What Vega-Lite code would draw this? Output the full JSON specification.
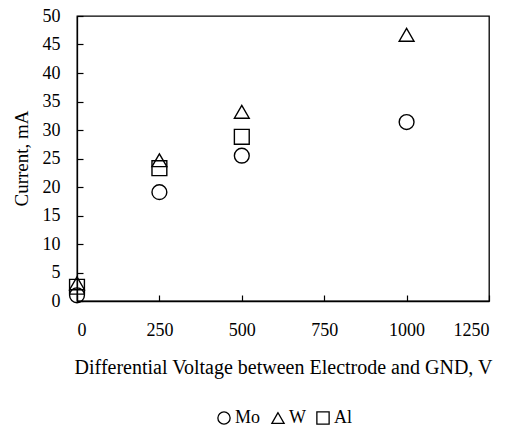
{
  "$schema": "https://vega.github.io/schema/vega-lite/v6.json",
  "width": 412,
  "height": 285,
  "autosize": {"type": "none"},
  "padding": {"left": 77, "top": 16, "right": 25, "bottom": 129},
  "background": "white",
  "config": {
    "font": "Liberation Serif",
    "view": {"stroke": "black", "strokeWidth": 1.3},
    "axis": {
      "grid": false,
      "domainColor": "black",
      "domainWidth": 1.3,
      "tickColor": "black",
      "tickWidth": 1.2,
      "labelColor": "black",
      "titleColor": "black",
      "labelFontSize": 18,
      "titleFontWeight": "normal"
    },
    "legend": {"labelFont": "Liberation Serif", "labelFontSize": 18, "labelColor": "black"}
  },
  "data": {
    "values": [
      {"voltage": 0, "current": 1.0, "metal": "Mo"},
      {"voltage": 250, "current": 19.1, "metal": "Mo"},
      {"voltage": 500, "current": 25.5, "metal": "Mo"},
      {"voltage": 1000, "current": 31.4, "metal": "Mo"},
      {"voltage": 0, "current": 3.1, "metal": "W"},
      {"voltage": 250, "current": 24.7, "metal": "W"},
      {"voltage": 500, "current": 33.2, "metal": "W"},
      {"voltage": 1000, "current": 46.7, "metal": "W"},
      {"voltage": 0, "current": 2.5, "metal": "Al"},
      {"voltage": 250, "current": 23.3, "metal": "Al"},
      {"voltage": 500, "current": 28.8, "metal": "Al"}
    ]
  },
  "mark": {"type": "point", "filled": false, "stroke": "black", "strokeWidth": 1.4, "size": 220, "opacity": 1},
  "encoding": {
    "x": {
      "field": "voltage", "type": "quantitative",
      "scale": {"domain": [0, 1250], "nice": false},
      "axis": {
        "title": "Differential Voltage between Electrode and GND, V",
        "values": [0, 250, 500, 750, 1000, 1250],
        "format": "d",
        "labelFont": "Times New Roman",
        "titleFont": "Liberation Serif",
        "tickSize": -6,
        "labelPadding": 35,
        "labelBaseline": "middle",
        "titleFontSize": 20,
        "titleY": 72,
        "titleBaseline": "alphabetic"
      }
    },
    "y": {
      "field": "current", "type": "quantitative",
      "scale": {"domain": [0, 50], "nice": false},
      "axis": {
        "title": "Current, mA",
        "values": [0, 5, 10, 15, 20, 25, 30, 35, 40, 45, 50],
        "format": "d",
        "labelFont": "Liberation Serif",
        "titleFont": "Liberation Serif",
        "tickSize": -6,
        "labelPadding": 23,
        "titleFontSize": 19,
        "titleX": -56,
        "titleY": 142,
        "titleBaseline": "middle",
        "titleAngle": -90
      }
    },
    "shape": {
      "field": "metal", "type": "nominal",
      "scale": {"domain": ["Mo", "W", "Al"], "range": ["circle", "triangle-up", "square"]},
      "legend": {
        "title": null,
        "orient": "none",
        "direction": "horizontal",
        "legendX": 138,
        "legendY": 393,
        "symbolSize": 150,
        "symbolStrokeColor": "black",
        "symbolStrokeWidth": 1.3,
        "symbolFillColor": "transparent",
        "labelOffset": 2,
        "columnPadding": 8
      }
    }
  }
}
